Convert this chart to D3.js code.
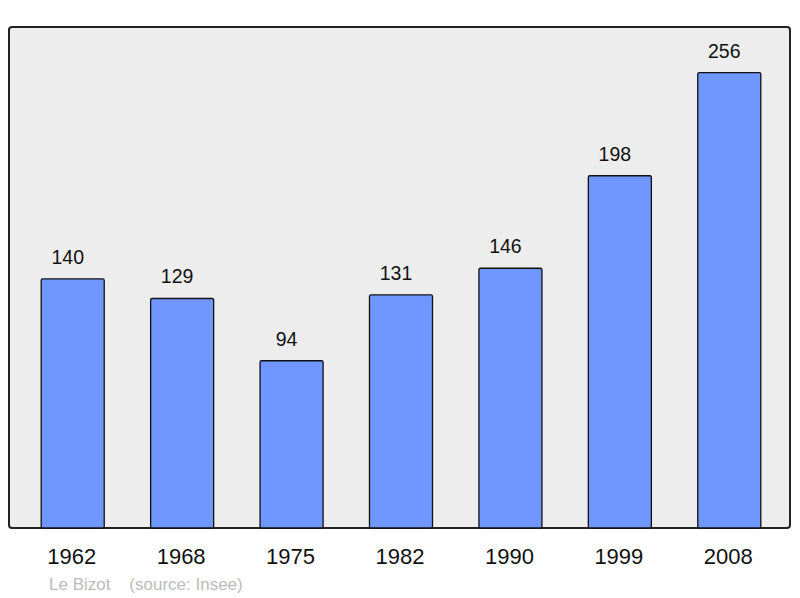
<!DOCTYPE html>
<html>
<head>
<meta charset="utf-8">
<script src="https://cdn.jsdelivr.net/npm/d3@7"></script>
<style>
  body { margin: 0; background: #fff; }
  text { font-family: "Liberation Sans", Arial, sans-serif; }
</style>
</head>
<body>
<div id="chart"></div>
<script>
// population figures
var years = ["1962", "1968", "1975", "1982", "1990", "1999", "2008"];
var population = [140, 129, 94, 131, 146, 198, 256];
var place = "Le Bizot";
var source = "(source: Insee)";

var width = 800,
  height = 598;

var frame = { left: 9, top: 27, right: 790, bottom: 528 };

var svg = d3
  .select("#chart")
  .append("svg")
  .attr("width", width)
  .attr("height", height);

svg
  .append("rect")
  .attr("x", frame.left)
  .attr("y", frame.top)
  .attr("width", frame.right - frame.left)
  .attr("height", frame.bottom - frame.top)
  .attr("rx", 3)
  .attr("fill", "#ededed")
  .attr("stroke", "#222")
  .attr("stroke-width", 2);

var x = d3
  .scaleBand()
  .domain(years)
  .range([18, 784])
  .paddingInner(0.424)
  .paddingOuter(0.212);

var y = d3
  .scaleLinear()
  .domain([0, d3.max(population) * 1.1])
  .range([frame.bottom, frame.top]);

var data = years.map(function(d, i) {
  return { year: d, value: population[i] };
});

svg
  .selectAll(".bar")
  .data(data)
  .enter()
  .append("rect")
  .attr("class", "bar")
  .attr("x", function(d) { return x(d.year); })
  .attr("y", function(d) { return y(d.value); })
  .attr("width", x.bandwidth())
  .attr("height", function(d) { return frame.bottom - y(d.value); })
  .attr("rx", 1.5)
  .attr("fill", "#7097ff")
  .attr("stroke", "#111")
  .attr("stroke-width", 1.3);

svg
  .selectAll(".value")
  .data(data)
  .enter()
  .append("text")
  .attr("class", "value")
  .attr("x", function(d) { return x(d.year) + x.bandwidth() / 2 - 5; })
  .attr("y", function(d) { return y(d.value) - 15; })
  .attr("text-anchor", "middle")
  .attr("font-size", 19.5)
  .attr("fill", "#111")
  .text(function(d) { return d.value; });

// year labels
svg
  .selectAll(".year")
  .data(years)
  .enter()
  .append("text")
  .attr("class", "year")
  .attr("x", function(d) { return x(d) + x.bandwidth() / 2 - 1; })
  .attr("y", 564)
  .attr("text-anchor", "middle")
  .attr("font-size", 22)
  .attr("fill", "#111")
  .text(function(d) { return d; });

svg
  .append("text")
  .attr("x", 49)
  .attr("y", 590)
  .attr("font-size", 17)
  .attr("fill", "#bbb")
  .attr("xml:space", "preserve")
  .text(place + "    " + source);
</script>
</body>
</html>
